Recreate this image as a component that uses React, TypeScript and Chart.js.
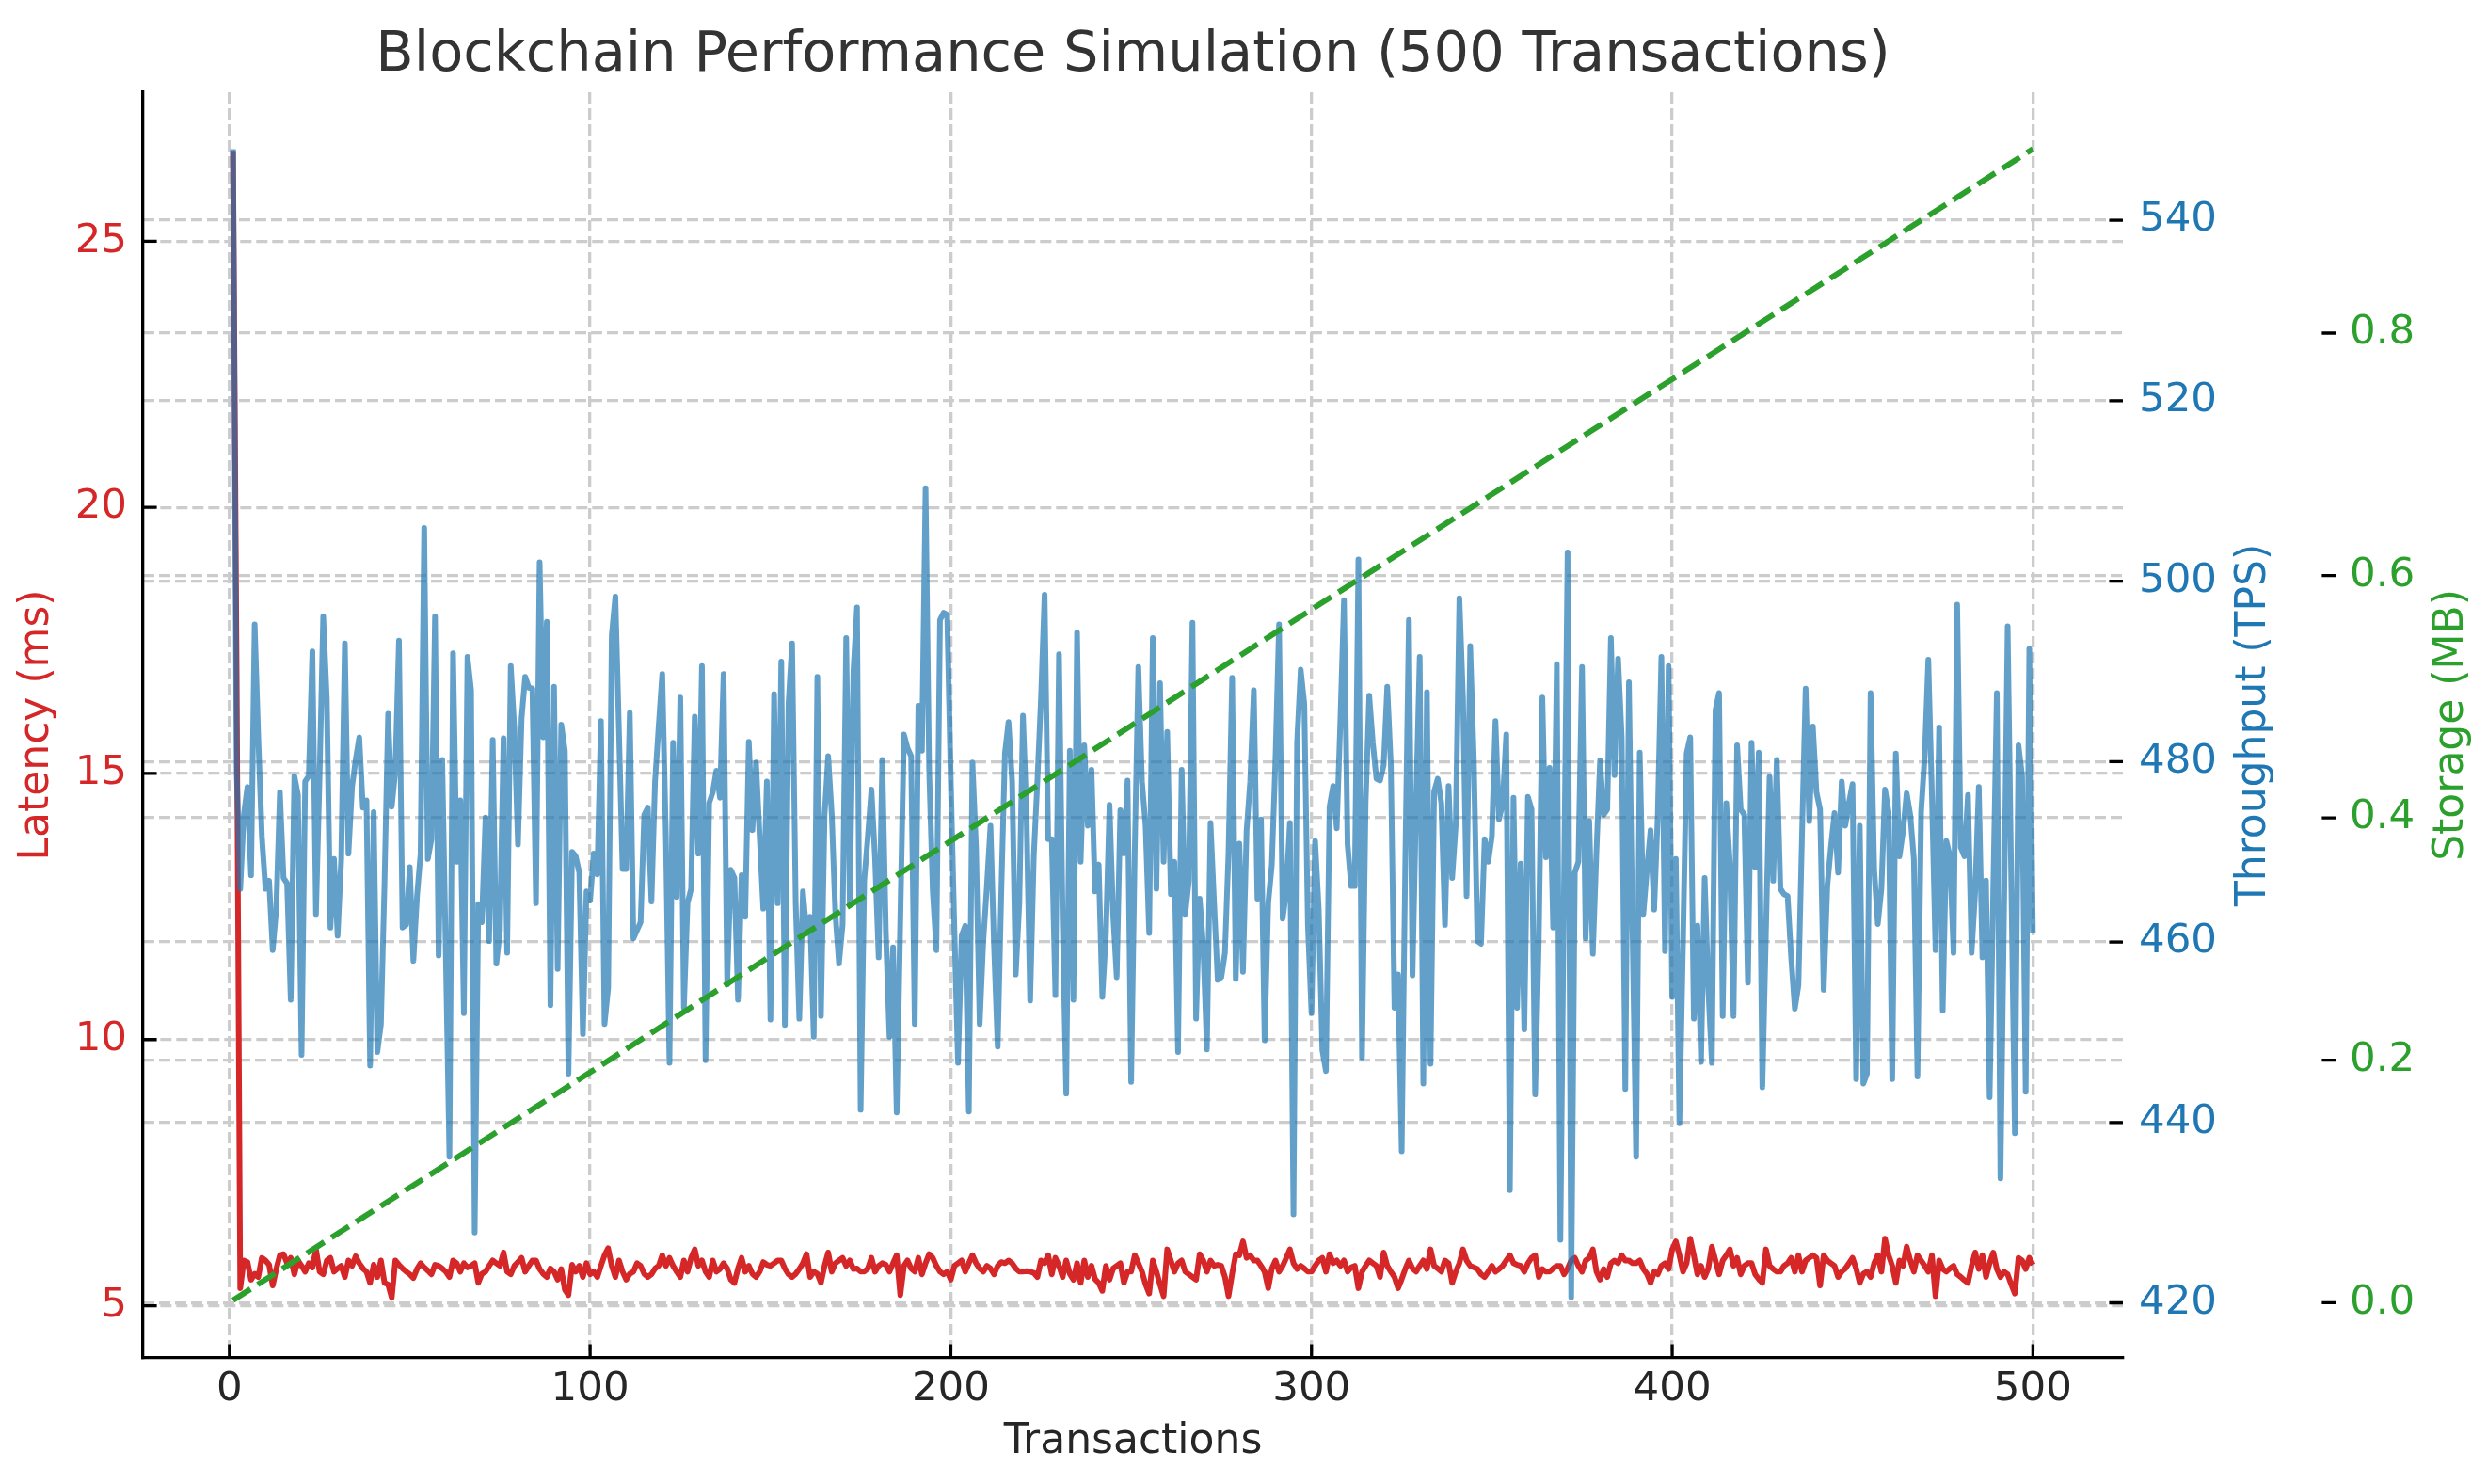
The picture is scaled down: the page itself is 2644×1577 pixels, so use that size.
import React, { useEffect, useRef } from 'react'
import Chart from 'chart.js/auto'

const TITLE = 'Blockchain Performance Simulation (500 Transactions)'

const txTicks = [0, 100, 200, 300, 400, 500]
const latencyTicks = [5, 10, 15, 20, 25]
const throughputTicks = [420, 440, 460, 480, 500, 520, 540]
const storageTicks = [0, 0.2, 0.4, 0.6, 0.8]

// latency (ms) per transaction, tx 1..500
const latencyMs = [
    26.7, 16.9, 5.33, 5.85, 5.82, 5.49, 5.6, 5.54, 5.9, 5.85,
    5.77, 5.38, 5.69, 5.95, 5.97, 5.8, 5.9, 5.59, 5.85, 5.75,
    5.64, 5.8, 5.72, 6.06, 5.64, 5.59, 5.85, 5.9, 5.64, 5.7,
    5.75, 5.54, 5.85, 5.75, 5.93, 5.8, 5.7, 5.64, 5.43, 5.77,
    5.54, 5.85, 5.43, 5.4, 5.15, 5.85, 5.77, 5.7, 5.64, 5.59,
    5.52, 5.69, 5.8, 5.72, 5.66, 5.59, 5.77, 5.75, 5.7, 5.64,
    5.54,
    5.85, 5.8, 5.64, 5.8, 5.72, 5.75, 5.8, 5.43, 5.6, 5.64,
    5.75, 5.85, 5.8, 5.75, 6.0, 5.64, 5.59, 5.75, 5.82, 5.9,
    5.64, 5.75, 5.85, 5.85, 5.69, 5.6, 5.54, 5.7, 5.64, 5.49,
    5.69, 5.3, 5.2, 5.77, 5.64, 5.75, 5.54, 5.8, 5.59, 5.64,
    5.54, 5.75, 5.95, 6.08, 5.75, 5.54, 5.85, 5.64, 5.49, 5.6,
    5.64, 5.8, 5.75, 5.6, 5.54, 5.59, 5.7, 5.75, 5.95, 5.75,
    5.9, 5.75, 5.64,
    5.54, 5.85, 5.64, 5.9, 6.06, 5.75, 5.85, 5.64, 5.54, 5.85,
    5.64, 5.69, 5.8, 5.7, 5.49, 5.43, 5.7, 5.9, 5.64, 5.75,
    5.6, 5.54, 5.64, 5.82, 5.77, 5.75, 5.8, 5.85, 5.85, 5.7,
    5.59, 5.54, 5.6, 5.69, 5.8, 5.97, 5.54, 5.64, 5.6, 5.43,
    5.75, 6.0, 5.64, 5.8, 5.85, 5.9, 5.75, 5.85, 5.69, 5.7,
    5.64, 5.64, 5.7, 5.9, 5.64, 5.75, 5.8, 5.77, 5.64, 5.8,
    5.95, 5.2,
    5.75, 5.85, 5.7, 5.64, 5.9, 5.59, 5.8, 5.97, 5.9, 5.75,
    5.64, 5.59, 5.64, 5.49, 5.75, 5.8, 5.85, 5.64, 5.8, 5.95,
    5.8, 5.7, 5.64, 5.75, 5.7, 5.59, 5.75, 5.82, 5.8, 5.85,
    5.8, 5.7, 5.64, 5.64, 5.65, 5.64, 5.62, 5.54, 5.85, 5.8,
    5.95, 5.59, 5.9, 5.75, 5.54, 5.85, 5.6, 5.49, 5.8, 5.43,
    5.85, 5.54, 5.75, 5.5, 5.43, 5.28, 5.75, 5.49, 5.7, 5.75,
    5.8, 5.43, 5.64,
    5.64, 5.95, 5.8, 5.64, 5.4, 5.23, 5.85, 5.64, 5.4, 5.18,
    6.06, 5.85, 5.64, 5.8, 5.85, 5.64, 5.59, 5.54, 5.49, 5.97,
    5.85, 5.64, 5.85, 5.75, 5.77, 5.75, 5.54, 5.18, 5.6, 5.97,
    5.95, 6.21, 5.9, 5.95, 5.85, 5.85, 5.75, 5.64, 5.33, 5.7,
    5.85, 5.64, 5.75, 5.9, 6.06, 5.8, 5.69, 5.75, 5.7, 5.64,
    5.64, 5.75, 5.85, 5.9, 5.64, 5.97, 5.8, 5.85, 5.75, 5.85,
    5.64, 5.72, 5.75,
    5.33, 5.64, 5.75, 5.85, 5.8, 5.75, 5.54, 6.0, 5.75, 5.64,
    5.54, 5.33, 5.5, 5.69, 5.85, 5.7, 5.64, 5.75, 5.85, 5.69,
    6.06, 5.75, 5.7, 5.64, 5.85, 5.8, 5.43, 5.64, 5.8, 6.06,
    5.85, 5.75, 5.72, 5.69, 5.59, 5.54, 5.64, 5.75, 5.64, 5.69,
    5.75, 5.85, 5.95, 5.8, 5.77, 5.75, 5.64, 5.8, 5.9, 5.95,
    5.54, 5.69, 5.64, 5.64, 5.7, 5.75, 5.75, 5.59, 5.7, 5.85,
    5.9, 5.75,
    5.64, 5.85, 5.9, 6.06, 5.64, 5.49, 5.69, 5.54, 5.8, 5.85,
    5.8, 5.95, 5.85, 5.85, 5.8, 5.8, 5.85, 5.69, 5.6, 5.43,
    5.64, 5.59, 5.75, 5.8, 5.69, 6.06, 6.21, 5.95, 5.64, 5.8,
    6.26, 5.95, 5.59, 5.75, 5.54, 5.7, 6.11, 5.85, 5.59, 5.85,
    5.95, 6.06, 5.75, 5.9, 5.59, 5.75, 5.8, 5.8, 5.59, 5.5,
    5.43, 6.06, 5.75, 5.69, 5.64, 5.64, 5.75, 5.8, 5.9, 5.64,
    5.95, 5.64, 5.85,
    5.9, 5.95, 5.9, 5.38, 5.95, 5.85, 5.8, 5.75, 5.54, 5.64,
    5.7, 5.8, 5.9, 5.7, 5.43, 5.6, 5.64, 5.54, 5.8, 5.95,
    5.64, 6.26, 5.95, 5.75, 5.43, 5.85, 5.75, 6.11, 5.85, 5.64,
    5.95, 5.85, 5.75, 5.64, 5.95, 5.18, 5.85, 5.69, 5.64, 5.7,
    5.75, 5.59, 5.54, 5.48, 5.43, 5.75, 6.0, 5.69, 5.95, 5.54,
    5.8, 6.0, 5.69, 5.54, 5.64, 5.59, 5.4, 5.23, 5.9, 5.85,
    5.69, 5.9, 5.77,
]

// throughput (TPS) per transaction, tx 1..500
const throughputTps = [
    547.9, 479.0, 465.9, 474.1, 477.2, 467.4, 495.2, 482.7, 471.7, 465.9,
    466.8, 459.1, 463.7, 476.6, 467.1, 466.5, 453.6, 478.4, 476.3, 447.5,
    477.8, 478.4, 492.2, 463.1, 478.4, 496.1, 487.0, 461.6, 469.2, 460.7,
    469.2, 493.1, 469.8, 477.2, 480.2, 482.7, 474.9, 475.7, 446.3, 474.4,
    447.8, 450.9, 466.5, 485.3, 475.0, 479.0, 493.4, 461.6, 461.9, 468.3,
    457.9, 465.0, 469.8, 505.9, 469.2, 471.4, 496.1, 458.5, 480.2, 458.5,
    436.2,
    492.0, 468.9, 475.7, 452.1, 491.6, 487.9, 427.8, 464.2, 462.2, 473.8,
    460.1, 482.4, 457.6, 461.3, 482.6, 458.8, 490.6, 483.6, 470.8, 484.8,
    489.4, 488.2, 488.1, 464.3, 502.1, 482.7, 495.5, 453.0, 488.3, 457.0,
    484.1, 481.2, 445.4, 470.0, 469.5, 467.7, 449.8, 465.6, 464.6, 469.8,
    467.5, 484.5, 450.9, 454.9, 494.0, 498.3, 483.3, 468.1, 468.1, 485.4,
    460.4, 461.3, 462.2, 474.1, 474.9, 464.5, 477.8, 483.9, 489.7, 471.7,
    446.6, 482.1, 465.0,
    487.1, 452.7, 464.3, 465.9, 485.0, 469.8, 490.6, 446.9, 475.4, 476.6,
    479.0, 476.0, 489.7, 455.3, 468.0, 467.1, 453.6, 467.4, 462.8, 482.2,
    472.4, 479.9, 471.7, 463.7, 477.8, 451.4, 487.5, 464.3, 491.1, 450.8,
    486.4, 493.1, 464.3, 451.5, 465.6, 461.0, 462.8, 449.5, 489.4, 451.8,
    474.1, 480.6, 474.1, 463.1, 457.6, 461.9, 493.7, 464.3, 490.0, 497.1,
    441.4, 466.8, 471.7, 476.9, 469.2, 458.3, 480.2, 461.0, 449.5, 459.4,
    441.1, 462.5,
    483.0, 481.5, 480.6, 450.9, 486.2, 481.2, 510.3, 479.0, 465.6, 459.1,
    495.7, 496.5, 496.3, 477.8, 461.3, 446.6, 460.7, 461.8, 441.2, 479.9,
    470.5, 450.9, 460.1, 466.2, 472.9, 459.4, 448.4, 465.6, 480.9, 484.4,
    477.8, 456.4, 464.3, 485.1, 474.1, 453.5, 469.5, 477.8, 487.0, 498.5,
    471.4, 471.4, 454.1, 491.9, 462.5, 443.2, 481.2, 453.6, 494.3, 468.9,
    481.8, 472.9, 479.1, 465.6, 468.6, 453.9, 460.7, 475.2, 463.1, 456.1,
    474.6, 469.8, 477.9,
    444.5, 470.0, 490.5, 477.8, 472.9, 461.0, 493.7, 465.9, 488.7, 468.9,
    483.3, 465.3, 468.9, 447.8, 479.1, 463.1, 466.8, 495.4, 451.5, 464.8,
    459.4, 448.1, 473.2, 464.3, 455.8, 456.1, 458.8, 470.0, 489.3, 455.9,
    470.9, 456.7, 472.3, 477.8, 487.9, 464.8, 473.6, 449.1, 464.3, 468.6,
    480.2, 495.2, 462.6, 465.6, 473.2, 429.8, 482.1, 490.2, 486.4, 461.9,
    452.1, 471.2, 463.7, 448.0, 445.7, 475.0, 477.3, 472.6, 484.5, 497.9,
    470.8, 466.2, 466.2,
    502.4, 447.2, 475.4, 487.3, 482.1, 478.1, 477.9, 479.6, 488.3, 479.6,
    452.7, 456.4, 436.8, 468.9, 495.7, 456.3, 475.4, 491.6, 444.3, 487.7,
    446.5, 476.7, 478.1, 475.4, 461.9, 477.3, 467.1, 473.0, 498.1, 487.0,
    465.1, 492.8, 480.2, 460.1, 459.8, 471.4, 468.9, 471.7, 484.5, 473.6,
    475.4, 483.0, 432.5, 476.0, 452.7, 468.7, 450.3, 476.1, 474.7, 443.1,
    460.1, 487.1, 469.4, 479.3, 461.6, 490.8, 427.0, 466.0, 503.2, 420.6,
    467.7, 468.9,
    490.5, 460.4, 473.4, 458.7, 470.0, 480.1, 474.1, 474.7, 493.7, 478.5,
    491.4, 482.7, 443.7, 488.8, 461.3, 436.2, 481.0, 463.1, 468.0, 472.4,
    463.6, 474.1, 491.6, 459.0, 490.6, 453.9, 469.2, 439.9, 460.0, 480.9,
    482.7, 451.5, 461.8, 446.7, 467.1, 454.9, 446.6, 485.7, 487.6, 451.8,
    475.4, 468.6, 451.8, 481.8, 474.7, 474.1, 455.5, 482.1, 468.3, 481.0,
    443.9, 461.3, 478.3, 466.8, 480.2, 465.9, 465.3, 465.1, 458.2, 452.6,
    455.2, 472.0, 488.1,
    473.4, 483.9, 476.6, 474.7, 454.7, 466.2, 470.5, 474.3, 467.7, 477.8,
    472.9, 475.4, 477.5, 444.8, 472.9, 444.3, 445.4, 487.6, 468.0, 462.0,
    465.9, 476.9, 474.4, 444.8, 480.9, 469.5, 472.3, 476.5, 474.1, 469.2,
    445.1, 474.4, 480.6, 491.3, 476.3, 459.1, 483.8, 452.4, 471.2, 469.5,
    458.8, 497.4, 470.5, 469.5, 476.3, 458.8, 465.6, 477.2, 458.3, 466.8,
    442.8, 465.6, 487.6, 433.8, 463.7, 495.0, 466.8, 438.8, 481.8, 478.4,
    443.4, 492.5, 461.0,
]

// cumulative storage (MB) read at a few transaction counts
const storageTx = [1, 50, 100, 150, 200, 250, 300, 350, 400, 450, 500]
const storageMB = [0.002, 0.095, 0.19, 0.286, 0.381, 0.476, 0.572, 0.667, 0.762, 0.857, 0.952]

const FONT = '"DejaVu Sans", sans-serif'
const RED = '#d62728'
const BLUE = '#1f77b4'
const GREEN = '#2ca02c'
const GRID = '#cccccc'
const TICK_LEN = 14.6
const LINE_W = 3.3

const gridOpts = { color: GRID, lineWidth: LINE_W, drawTicks: false }
const dashBorder = { display: false, dash: [12, 5] }

// matplotlib-like inward ticks, title and upward-reading y titles
const decor = {
    id: 'decor',
    afterDraw(chart: any) {
        const { ctx, chartArea: a, scales: s } = chart
        ctx.save()
        ctx.strokeStyle = '#000'
        ctx.lineWidth = LINE_W
        ctx.beginPath()
        txTicks.forEach((v) => {
            const px = s.x.getPixelForValue(v)
            ctx.moveTo(px, a.bottom)
            ctx.lineTo(px, a.bottom - TICK_LEN)
        })
        latencyTicks.forEach((v) => {
            const py = s.latency.getPixelForValue(v)
            ctx.moveTo(a.left, py)
            ctx.lineTo(a.left + TICK_LEN, py)
        })
        throughputTicks.forEach((v) => {
            const py = s.throughput.getPixelForValue(v)
            ctx.moveTo(a.right, py)
            ctx.lineTo(a.right - TICK_LEN, py)
        })
        storageTicks.forEach((v) => {
            const py = s.storage.getPixelForValue(v)
            ctx.moveTo(s.storage.left, py)
            ctx.lineTo(s.storage.left - TICK_LEN, py)
        })
        ctx.stroke()

        ctx.fillStyle = '#333'
        ctx.font = `59px ${FONT}`
        ctx.textAlign = 'center'
        ctx.textBaseline = 'alphabetic'
        ctx.fillText(TITLE, (a.left + a.right) / 2, 75)

        const yTitle = (text: string, color: string, x: number) => {
            ctx.save()
            ctx.translate(x, (a.top + a.bottom) / 2)
            ctx.rotate(-Math.PI / 2)
            ctx.fillStyle = color
            ctx.font = `44px ${FONT}`
            ctx.textAlign = 'center'
            ctx.textBaseline = 'middle'
            ctx.fillText(text, 0, 0)
            ctx.restore()
        }
        yTitle('Latency (ms)', RED, s.latency.left + 40)
        yTitle('Throughput (TPS)', BLUE, s.throughput.left + 140)
        yTitle('Storage (MB)', GREEN, s.storage.left + 124)
        ctx.restore()
    },
}

export default function App() {
    const ref = useRef<HTMLCanvasElement | null>(null)

    useEffect(() => {
        if (!ref.current) {
            return
        }
        document.body.style.margin = '0'

        const chart = new Chart(ref.current, {
            type: 'line',
            data: {
                datasets: [
                    {
                        label: 'Latency',
                        data: latencyMs.map((y, i) => ({ x: i + 1, y })),
                        yAxisID: 'latency',
                        borderColor: RED,
                        borderWidth: 6,
                        pointRadius: 0,
                        borderJoinStyle: 'round',
                        order: 3,
                    },
                    {
                        label: 'Throughput',
                        data: throughputTps.map((y, i) => ({ x: i + 1, y })),
                        yAxisID: 'throughput',
                        borderColor: 'rgba(31, 119, 180, 0.7)',
                        borderWidth: 6,
                        pointRadius: 0,
                        borderJoinStyle: 'round',
                        order: 2,
                    },
                    {
                        label: 'Storage',
                        data: storageTx.map((x, i) => ({ x, y: storageMB[i] })),
                        yAxisID: 'storage',
                        borderColor: GREEN,
                        borderWidth: 6,
                        borderDash: [22, 9],
                        pointRadius: 0,
                        order: 1,
                    },
                ],
            },
            options: {
                animation: false,
                responsive: false,
                devicePixelRatio: 1,
                layout: { padding: { top: 98, left: 0, right: 0, bottom: 0 } },
                plugins: {
                    legend: { display: false },
                    title: { display: false },
                    tooltip: { enabled: false },
                },
                scales: {
                    x: {
                        type: 'linear',
                        min: -23.95,
                        max: 524.95,
                        afterBuildTicks: (sc: any) => {
                            sc.ticks = txTicks.map((value) => ({ value }))
                        },
                        afterFit: (sc: any) => {
                            sc.height = 134
                        },
                        grid: gridOpts,
                        border: { display: true, color: '#000', width: LINE_W, dash: [12, 5] },
                        ticks: {
                            color: '#262626',
                            font: { family: FONT, size: 43.5 },
                            padding: 8,
                            maxRotation: 0,
                            autoSkip: false,
                        },
                        title: {
                            display: true,
                            text: 'Transactions',
                            color: '#262626',
                            font: { family: FONT, size: 44 },
                            padding: { top: 0, bottom: 17.6 },
                        },
                    },
                    latency: {
                        type: 'linear',
                        position: 'left',
                        min: 4.02,
                        max: 27.8,
                        afterBuildTicks: (sc: any) => {
                            sc.ticks = latencyTicks.map((value) => ({ value }))
                        },
                        afterFit: (sc: any) => {
                            sc.width = 152
                        },
                        grid: gridOpts,
                        border: { display: true, color: '#000', width: LINE_W, dash: [12, 5] },
                        ticks: { color: RED, font: { family: FONT, size: 43.5 }, padding: 17 },
                    },
                    throughput: {
                        type: 'linear',
                        position: 'right',
                        weight: 1,
                        min: 413.9,
                        max: 554.2,
                        afterBuildTicks: (sc: any) => {
                            sc.ticks = throughputTicks.map((value) => ({ value }))
                        },
                        afterFit: (sc: any) => {
                            sc.width = 226
                        },
                        grid: gridOpts,
                        border: dashBorder,
                        ticks: { color: BLUE, font: { family: FONT, size: 43.5 }, padding: 17 },
                    },
                    storage: {
                        type: 'linear',
                        position: 'right',
                        weight: 2,
                        min: -0.0456,
                        max: 0.9988,
                        afterBuildTicks: (sc: any) => {
                            sc.ticks = storageTicks.map((value) => ({ value }))
                        },
                        afterFit: (sc: any) => {
                            sc.width = 162
                        },
                        grid: gridOpts,
                        border: dashBorder,
                        ticks: {
                            color: GREEN,
                            font: { family: FONT, size: 43.5 },
                            padding: 15,
                            callback: (v: any) => Number(v).toFixed(1),
                        },
                    },
                },
            },
            plugins: [decor],
        } as any)

        return () => chart.destroy()
    }, [])

    return <canvas ref={ref} width={2644} height={1577} style={{ display: 'block' }}></canvas>
}
